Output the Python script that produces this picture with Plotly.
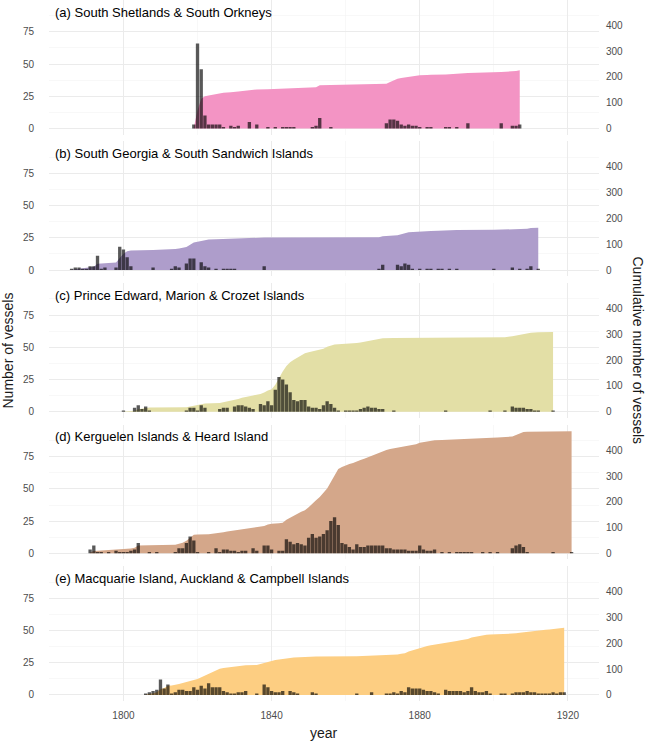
import numpy as np
import plotly.graph_objects as go

# ---------------- data ----------------
panel_titles = [
    "(a) South Shetlands & South Orkneys",
    "(b) South Georgia & South Sandwich Islands",
    "(c) Prince Edward, Marion & Crozet Islands",
    "(d) Kerguelen Islands & Heard Island",
    "(e) Macquarie Island, Auckland & Campbell Islands",
]

years_a = [1819, 1820, 1821, 1822, 1823, 1824, 1825, 1826, 1827, 1829, 1830, 1831, 1834, 1836,
           1839, 1841, 1843, 1844, 1845, 1846, 1851, 1852, 1853, 1856, 1871, 1872, 1873, 1874,
           1875, 1876, 1877, 1878, 1879, 1880, 1882, 1883, 1887, 1888, 1890, 1893, 1902, 1905,
           1906, 1907]
counts_a = [3, 66, 46, 10, 3, 3, 3, 3, 1, 2, 1, 2, 5, 3,
            1, 1, 1, 1, 1, 1, 1, 2, 8, 1, 4, 7, 7, 6,
            3, 2, 3, 2, 2, 1, 1, 1, 1, 1, 1, 4, 4, 2,
            2, 3]

years_b = [1786, 1787, 1788, 1789, 1790, 1791, 1792, 1793, 1794, 1795, 1798, 1799, 1800, 1801,
           1802, 1808, 1813, 1814, 1815, 1817, 1818, 1819, 1821, 1822, 1823, 1825, 1827, 1828,
           1829, 1830, 1838, 1869, 1870, 1874, 1875, 1876, 1877, 1878, 1880, 1882, 1883, 1885,
           1886, 1888, 1890, 1900, 1905, 1907, 1909, 1910, 1912]
counts_b = [1, 2, 2, 1, 1, 3, 3, 11, 1, 2, 2, 18, 16, 10,
            3, 2, 1, 3, 2, 5, 9, 9, 6, 3, 2, 1, 1, 1,
            1, 1, 3, 1, 4, 4, 3, 5, 4, 1, 1, 1, 1, 1,
            1, 1, 1, 1, 2, 1, 1, 3, 1]

years_c = [1800, 1803, 1804, 1805, 1806, 1807, 1817, 1818, 1819, 1820, 1821, 1822, 1826, 1827,
           1828, 1830, 1831, 1832, 1833, 1834, 1835, 1837, 1838, 1839, 1840, 1841, 1842, 1843,
           1844, 1845, 1846, 1847, 1848, 1849, 1850, 1851, 1852, 1853, 1854, 1855, 1856, 1857,
           1858, 1860, 1861, 1862, 1863, 1864, 1865, 1866, 1867, 1868, 1869, 1870, 1873, 1887,
           1899, 1903, 1905, 1906, 1907, 1908, 1909, 1910, 1911, 1912, 1916]
counts_c = [1, 3, 5, 2, 4, 1, 1, 3, 3, 1, 5, 3, 2, 3,
            3, 4, 5, 5, 4, 3, 2, 6, 5, 8, 5, 17, 27, 25,
            21, 15, 9, 8, 9, 9, 4, 3, 3, 2, 5, 8, 6, 3,
            1, 1, 1, 1, 1, 2, 3, 4, 3, 3, 2, 2, 1, 1,
            1, 1, 4, 3, 3, 3, 2, 2, 1, 1, 1]

years_d = [1791, 1792, 1793, 1794, 1796, 1798, 1799, 1800, 1801, 1802, 1803, 1804, 1807, 1809,
           1814, 1815, 1816, 1817, 1818, 1819, 1820, 1823, 1825, 1826, 1827, 1828, 1829, 1830,
           1831, 1832, 1833, 1835, 1836, 1838, 1839, 1840, 1842, 1843, 1844, 1845, 1846, 1847,
           1848, 1849, 1850, 1851, 1852, 1853, 1854, 1855, 1856, 1857, 1858, 1859, 1860, 1861,
           1862, 1863, 1864, 1865, 1866, 1867, 1868, 1869, 1870, 1871, 1872, 1873, 1874, 1875,
           1876, 1877, 1878, 1879, 1880, 1881, 1882, 1883, 1884, 1886, 1888, 1890, 1891, 1892,
           1893, 1894, 1897, 1899, 1901, 1905, 1906, 1907, 1908, 1909, 1916, 1921]
counts_d = [3, 6, 1, 1, 1, 2, 1, 1, 1, 2, 3, 8, 1, 1,
            1, 4, 4, 8, 13, 10, 1, 1, 4, 1, 3, 3, 2, 2,
            1, 2, 2, 4, 2, 6, 6, 3, 2, 2, 11, 9, 7, 8,
            7, 6, 12, 15, 12, 13, 15, 18, 25, 28, 22, 8, 7, 5,
            3, 7, 5, 5, 6, 6, 6, 6, 6, 4, 4, 3, 3, 3,
            3, 2, 2, 2, 6, 3, 2, 2, 3, 1, 1, 1, 1, 1,
            1, 1, 1, 1, 1, 4, 6, 7, 5, 1, 1, 1]

years_e = [1806, 1807, 1808, 1809, 1810, 1811, 1812, 1813, 1814, 1815, 1816, 1817, 1818, 1819,
           1820, 1821, 1822, 1823, 1824, 1825, 1826, 1827, 1828, 1829, 1830, 1831, 1832, 1833,
           1836, 1838, 1839, 1840, 1841, 1842, 1843, 1845, 1846, 1847, 1851, 1852, 1863, 1867,
           1871, 1872, 1873, 1874, 1875, 1876, 1877, 1878, 1879, 1880, 1881, 1882, 1883, 1884,
           1885, 1887, 1888, 1889, 1890, 1891, 1892, 1893, 1894, 1895, 1896, 1897, 1898, 1899,
           1902, 1903, 1905, 1906, 1907, 1908, 1909, 1910, 1911, 1912, 1913, 1914, 1915, 1916,
           1917, 1918, 1919]
counts_e = [1, 2, 3, 4, 12, 5, 8, 1, 2, 4, 4, 3, 3, 6,
            4, 7, 5, 9, 6, 6, 6, 3, 2, 1, 1, 2, 2, 3,
            1, 8, 6, 3, 2, 2, 3, 3, 2, 1, 2, 1, 1, 2,
            1, 1, 2, 1, 3, 2, 6, 5, 5, 5, 4, 3, 3, 2,
            1, 4, 3, 3, 3, 3, 2, 3, 6, 3, 2, 2, 3, 1,
            1, 1, 1, 2, 2, 2, 3, 2, 2, 1, 1, 1, 1, 2,
            1, 2, 2]

panel_years = [years_a, years_b, years_c, years_d, years_e]
panel_counts = [counts_a, counts_b, counts_c, counts_d, counts_e]
panel_fill = ["#F394C4", "#AE9DCB", "#E3DFA6", "#D4A78A", "#FDCE82"]

left_ticks = [0, 25, 50, 75]
right_ticks = [0, 100, 200, 300, 400]
x_ticks = [1800, 1840, 1880, 1920]

# ---------------- layout geometry ----------------
W, H = 647, 741
M_L, M_R, M_T, M_B = 49, 48, 0, 40
PH = H - M_T - M_B                # plot area height in px
SCALE = 5                         # secondary axis factor
LEFT_RANGE = [-4.75, 99.75]
RIGHT_RANGE = [LEFT_RANGE[0] * SCALE, LEFT_RANGE[1] * SCALE]
X_RANGE = [1779.9, 1928.4]
PANEL_H = 134.67
PANEL_STEP = 141.65
BOTTOM_E = 701.1

TICK_FONT = dict(family="Liberation Sans, Arial, sans-serif", size=10, color="#4D4D4D")
GRID = "#EBEBEB"
MINOR_GRID = "#F4F4F4"
BAR_COLOR = "rgba(0,0,0,0.65)"

fig = go.Figure()
annotations = []

for i in range(5):
    bottom_px = BOTTOM_E - (4 - i) * PANEL_STEP
    top_px = bottom_px - PANEL_H
    dom = [max(0.0, (PH - bottom_px) / PH), min(1.0, (PH - top_px) / PH)]

    xn = "x" if i == 0 else f"x{i + 1}"
    ycum = "y" if i == 0 else f"y{2 * i + 1}"
    ycnt = f"y{2 * i + 2}"
    xkey = "xaxis" if i == 0 else f"xaxis{i + 1}"
    ycum_key = "yaxis" if i == 0 else f"yaxis{2 * i + 1}"
    ycnt_key = f"yaxis{2 * i + 2}"

    yrs = np.array(panel_years[i])
    cnt = np.array(panel_counts[i])
    cum = np.cumsum(cnt)

    fig.add_trace(go.Scatter(
        x=yrs, y=cum, xaxis=xn, yaxis=ycum, mode="lines", fill="tozeroy",
        fillcolor=panel_fill[i], line=dict(width=0, color=panel_fill[i]),
        showlegend=False, hoverinfo="skip"))
    fig.add_trace(go.Bar(
        x=yrs, y=cnt, xaxis=xn, yaxis=ycnt, width=0.9,
        marker=dict(color=BAR_COLOR, line=dict(width=0)),
        showlegend=False, hoverinfo="skip"))

    fig.layout[xkey] = dict(
        domain=[0, 1], anchor=ycum, range=X_RANGE,
        tickmode="array", tickvals=x_ticks, ticktext=[str(v) for v in x_ticks],
        showticklabels=(i == 4), ticks="outside" if i == 4 else "", ticklen=5,
        tickcolor="rgba(0,0,0,0)", tickfont=TICK_FONT,
        showgrid=True, gridcolor=GRID, gridwidth=1, zeroline=False, showline=False,
        minor=dict(tickmode="linear", tick0=1780, dtick=20, showgrid=True,
                   gridcolor=MINOR_GRID, gridwidth=0.6),
        **({} if i == 0 else {"matches": "x"}))

    fig.layout[ycum_key] = dict(
        domain=dom, anchor=xn, side="right", range=RIGHT_RANGE,
        tickmode="array", tickvals=right_ticks, ticktext=[str(v) for v in right_ticks],
        ticks="outside", ticklen=4, tickcolor="rgba(0,0,0,0)", tickfont=TICK_FONT,
        showgrid=False, zeroline=False, showline=False)

    fig.layout[ycnt_key] = dict(
        anchor=xn, overlaying=ycum, side="left", range=LEFT_RANGE,
        tickmode="array", tickvals=left_ticks, ticktext=[str(v) for v in left_ticks],
        ticks="outside", ticklen=12, tickcolor="rgba(0,0,0,0)", tickfont=TICK_FONT,
        showgrid=True, gridcolor=GRID, gridwidth=1, zeroline=False, showline=False,
        minor=dict(tickmode="linear", tick0=0, dtick=12.5, showgrid=True,
                   gridcolor=MINOR_GRID, gridwidth=0.6))

    annotations.append(dict(
        text=panel_titles[i], xref=f"{xn} domain", yref=ycnt, x=0.008, y=90.4,
        xanchor="left", yanchor="middle", showarrow=False,
        font=dict(family="Liberation Sans, Arial, sans-serif", size=13, color="#000000")))

AX_TITLE_FONT = dict(family="Liberation Sans, Arial, sans-serif", size=14, color="#1A1A1A")
annotations.append(dict(text="Number of vessels", xref="paper", yref="paper",
                        x=-(M_L - 7) / (W - M_L - M_R), y=0.5, textangle=-90,
                        xanchor="center", yanchor="middle", showarrow=False, font=AX_TITLE_FONT))
annotations.append(dict(text="Cumulative number of vessels", xref="paper", yref="paper",
                        x=1 + (638 - (W - M_R)) / (W - M_L - M_R), y=0.5, textangle=90,
                        xanchor="center", yanchor="middle", showarrow=False, font=AX_TITLE_FONT))
annotations.append(dict(text="year", xref="paper", yref="paper",
                        x=0.5, y=-(733 - PH) / PH,
                        xanchor="center", yanchor="middle", showarrow=False, font=AX_TITLE_FONT))

fig.update_layout(
    width=W, height=H, margin=dict(l=M_L, r=M_R, t=M_T, b=M_B),
    paper_bgcolor="white", plot_bgcolor="white", barmode="overlay",
    annotations=annotations, showlegend=False,
    font=dict(family="Liberation Sans, Arial, sans-serif"))

fig.write_html(
    "out.html",
    config={"displayModeBar": False, "staticPlot": True},
    post_script="document.body.style.margin='0';document.body.style.overflow='hidden';")
